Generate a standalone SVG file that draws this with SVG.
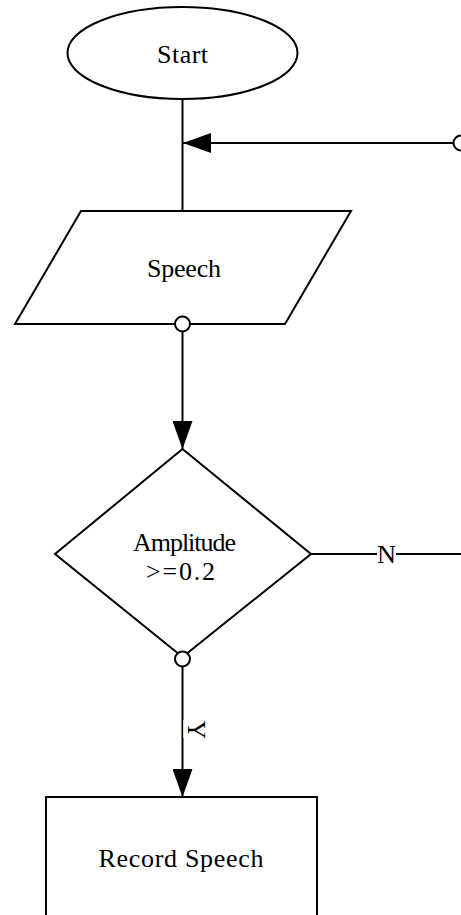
<svg xmlns="http://www.w3.org/2000/svg" width="461" height="915" viewBox="0 0 461 915">
<style>
.shape{fill:#fff;stroke:#000;stroke-width:2}
.conn{fill:none;stroke:#000;stroke-width:2}
.port{fill:#fff;stroke:#000;stroke-width:2}
.lbl{font-family:"Liberation Serif","Times New Roman",serif;font-size:26px;fill:#000;text-anchor:middle}
</style>
<defs>
<marker id="arr" viewBox="0 0 28 20" refX="28" refY="10" markerWidth="28" markerHeight="20" markerUnits="userSpaceOnUse" orient="auto">
<path d="M0,0 L28,10 L0,20 Z" fill="#000"/>
</marker>
</defs>
<rect width="461" height="915" fill="#fff"/>
<g id="connectors">
<line class="conn" x1="182.5" y1="99" x2="182.5" y2="211"/>
<line class="conn" x1="453" y1="143" x2="183" y2="143" marker-end="url(#arr)"/>
<circle class="port" cx="461" cy="143" r="7.5"/>
<line class="conn" x1="182.5" y1="331" x2="182.5" y2="449" marker-end="url(#arr)"/>
<line class="conn" x1="311" y1="554" x2="377" y2="554"/>
<line class="conn" x1="396" y1="554" x2="461" y2="554"/>
<text class="lbl" x="386.5" y="563" textLength="19" lengthAdjust="spacingAndGlyphs">N</text>
<line class="conn" x1="182.5" y1="667" x2="182.5" y2="797" marker-end="url(#arr)"/>
<rect x="183" y="720" width="26" height="18" fill="#fff" fill-opacity="0.7"/>
<text class="lbl" transform="translate(196,730) rotate(90)" y="8">Y</text>
</g>
<g id="start">
<ellipse class="shape" cx="182.5" cy="53" rx="115" ry="46"/>
<text class="lbl" x="182.5" y="63" textLength="51" lengthAdjust="spacing">Start</text>
</g>
<g id="speech">
<polygon class="shape" points="81,211 351,211 285,324 15,324"/>
<text class="lbl" x="184" y="277" textLength="74" lengthAdjust="spacing">Speech</text>
<circle class="port" cx="182.5" cy="324" r="7.5"/>
</g>
<g id="decision">
<polygon class="shape" points="182.5,449 311,554 182.5,657 55,554"/>
<text class="lbl" x="184.5" y="551" textLength="103" lengthAdjust="spacing">Amplitude</text>
<text class="lbl" x="180.5" y="580" textLength="69" lengthAdjust="spacing">&gt;=0.2</text>
<circle class="port" cx="182.5" cy="659" r="7.5"/>
</g>
<g id="record">
<rect class="shape" x="46" y="797" width="271" height="130"/>
<text class="lbl" x="181" y="867" textLength="165" lengthAdjust="spacing">Record Speech</text>
</g>
</svg>
